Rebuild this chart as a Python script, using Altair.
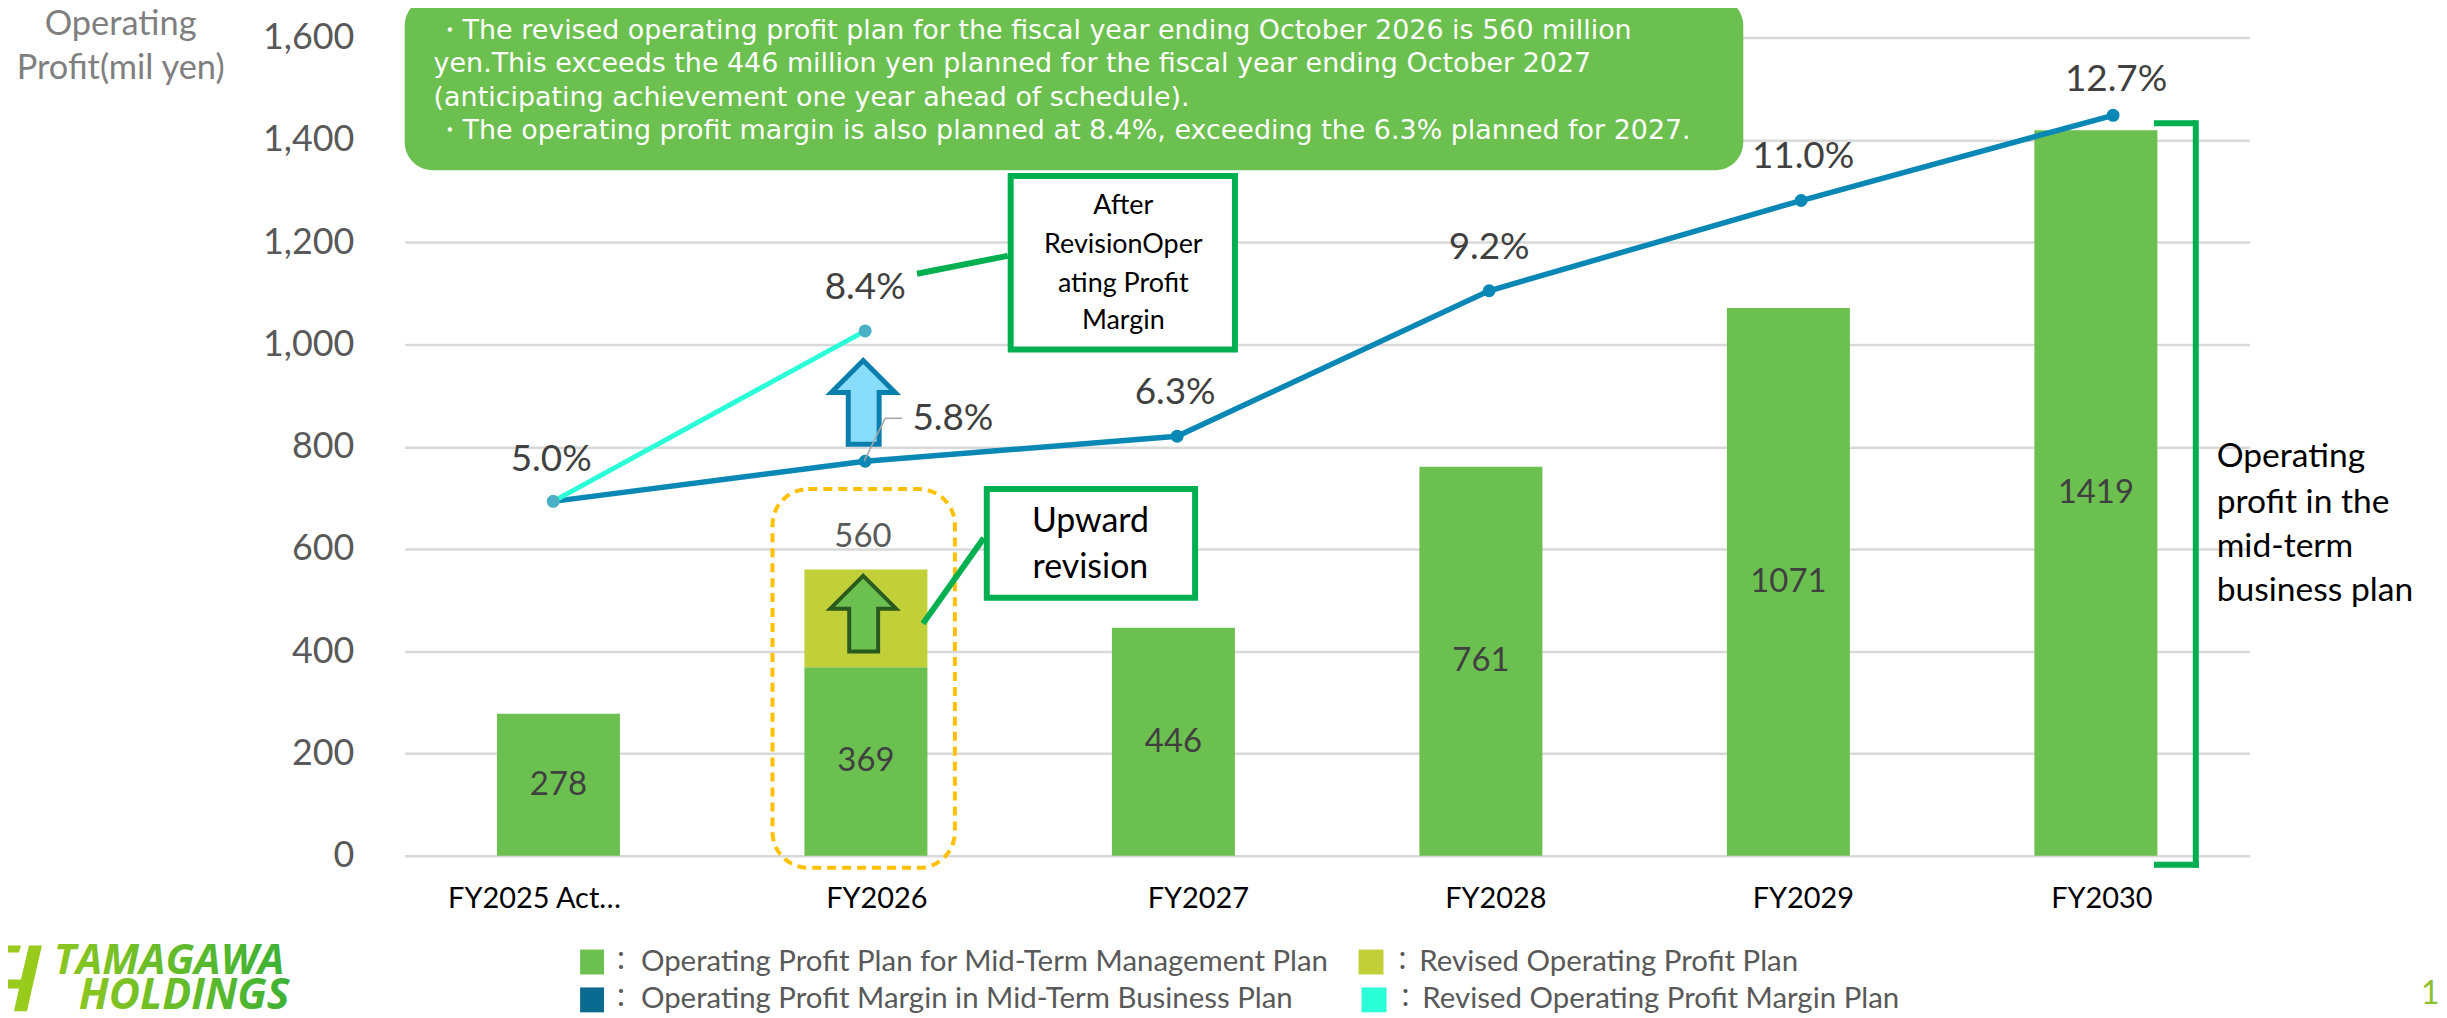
import altair as alt
import pandas as pd

categories = ["FY2025 Actual", "FY2026", "FY2027", "FY2028", "FY2029", "FY2030"]
plan_profit = [278, 369, 446, 761, 1071, 1419]
revised_profit = [560]
revised_category = ["FY2026"]
plan_margin = [5.0, 5.8, 6.3, 9.2, 11.0, 12.7]
margin_labels = ["5.0%", "5.8%", "6.3%", "9.2%", "11.0%", "12.7%"]
revised_margin_cats = ["FY2025 Actual", "FY2026"]
revised_margin = [5.0, 8.4]
revised_margin_labels = ["5.0%", "8.4%"]

LEFT, TOP, W, H = 406, 36, 1851, 821
GREEN, LIME, BLUE, TEAL, DOT = "#6CC04F", "#C1CF38", "#0A88B5", "#2BFFD8", "#4BB0C6"
CALL = "#00B050"
FONT = "Lato"


def px(v):
    return alt.value(v - LEFT)


def py(v):
    return alt.value(v - TOP)


def txt(s, x, y, size, color="#000000", font=FONT, align="left", **kw):
    return alt.Chart().mark_text(text=s, font=font, fontSize=size, color=color, align=align,
                                 baseline="middle", **kw).encode(x=px(x), y=py(y))


def seg(x, y, x2, y2, color=CALL, width=6):
    return alt.Chart().mark_rule(color=color, strokeWidth=width).encode(x=px(x), x2=px(x2), y=py(y), y2=py(y2))


def box(x, y, x2, y2, **kw):
    return alt.Chart().mark_rect(**kw).encode(x=px(x), x2=px(x2), y=py(y), y2=py(y2))


def shape(path, x, y, fill, stroke, width=4):
    return alt.Chart().mark_point(shape=path, size=4, filled=True, fill=fill, stroke=stroke, strokeWidth=width,
                                  opacity=1, strokeOpacity=1).encode(x=px(x), y=py(y))


bars_df = pd.DataFrame({"cat": categories, "v": plan_profit})
bars_df["mid"] = bars_df["v"] / 2
rev_df = pd.DataFrame({"cat": revised_category, "top": revised_profit, "base": [plan_profit[1]]})
line_df = pd.DataFrame({"cat": categories, "m": plan_margin, "t": margin_labels})
rev_line_df = pd.DataFrame({"cat": revised_margin_cats, "m": revised_margin, "t": revised_margin_labels})

band = alt.Scale(domain=categories, paddingInner=0.6, paddingOuter=0.3)
yscale = alt.Scale(domain=[0, 1600], nice=False)
pts = alt.Scale(type="point", domain=categories, range=[555 - LEFT, 2120 - LEFT], padding=0)
mscale = alt.Scale(domain=[-2.07, 14.25], nice=False, zero=False)

xnone = alt.X("cat:N", scale=band, axis=None)
ynone = alt.Y("v:Q", scale=yscale, axis=None)

x_axis = alt.Axis(
    title=None, labelAngle=0, ticks=False, domain=False, labelFont=FONT, labelFontSize=29, labelColor="#000000",
    labelPadding=29, labelOverlap=False, labelBound=False, grid=False,
    labelOffset=alt.expr("datum.label=='FY2025 Actual'?-24:datum.label=='FY2026'?11:datum.label=='FY2027'?25:"
                         "datum.label=='FY2028'?15:datum.label=='FY2029'?15:6"),
)
y_axis = alt.Axis(
    title=None, values=list(range(0, 1601, 200)), format=",.0f", ticks=False, domain=False, labelFont=FONT,
    labelFontSize=36, labelColor="#595959", labelPadding=51, gridColor="#D9D9D9", gridWidth=2.5, grid=True,
    labelOverlap=False, labelBound=False,
)

layers = []
layers.append(alt.Chart(bars_df).mark_bar(color=GREEN).encode(
    x=alt.X("cat:N", scale=band, axis=x_axis), y=alt.Y("v:Q", scale=yscale, axis=y_axis)))
layers.append(alt.Chart(rev_df).mark_bar(color=LIME).encode(
    x=xnone, y=alt.Y("top:Q", scale=yscale, axis=None), y2="base:Q"))
layers.append(alt.Chart(bars_df).mark_text(font=FONT, fontSize=33, color="#404040", baseline="middle").encode(
    x=xnone, y=alt.Y("mid:Q", scale=yscale, axis=None), text="v:Q"))
layers.append(alt.Chart(rev_df).mark_text(font=FONT, fontSize=33, color="#595959", baseline="middle", dy=-33, dx=-3).encode(
    x=xnone, y=alt.Y("top:Q", scale=yscale, axis=None), text="top:Q"))

# margin lines on their own hidden scales
xp = alt.X("cat:N", scale=pts, axis=None)
ym = alt.Y("m:Q", scale=mscale, axis=None)
layers.append(alt.Chart(line_df).mark_line(color=BLUE, strokeWidth=5.5).encode(x=xp, y=ym))
layers.append(alt.Chart(rev_line_df).mark_line(color=TEAL, strokeWidth=5).encode(x=xp, y=ym))
layers.append(alt.Chart(line_df.iloc[1:]).mark_point(color=BLUE, filled=True, size=170, opacity=1).encode(x=xp, y=ym))
layers.append(alt.Chart(rev_line_df).mark_point(color=DOT, filled=True, size=170, opacity=1).encode(x=xp, y=ym))

offsets = {"5.0%": (-2, -41), "5.8%": (88, -42), "6.3%": (-2, -43), "9.2%": (0, -43), "11.0%": (2, -44), "12.7%": (3, -35)}
for lbl, (dx, dy) in offsets.items():
    layers.append(alt.Chart(line_df[line_df.t == lbl]).mark_text(
        font=FONT, fontSize=37, color="#404040", baseline="middle", dx=dx, dy=dy).encode(x=xp, y=ym, text="t:N"))
layers.append(alt.Chart(rev_line_df[rev_line_df.t == "8.4%"]).mark_text(
    font=FONT, fontSize=37, color="#404040", baseline="middle", dy=-43).encode(x=xp, y=ym, text="t:N"))

# annotations
layers.append(box(406, -4, 1749, 169, fill=GREEN, cornerRadius=28))
for s, x, y in [("・The revised operating profit plan for the fiscal year ending October 2026 is 560 million", 437, 29),
                ("yen.This exceeds the 446 million yen planned for the fiscal year ending October 2027", 435, 63),
                ("(anticipating achievement one year ahead of schedule).", 435, 97),
                ("・The operating profit margin is also planned at 8.4%, exceeding the 6.3% planned for 2027.", 437, 130)]:
    layers.append(txt(s, x, y, 27, "#FFFFFF", font="DejaVu Sans"))

layers.append(txt("Operating", 121, 23, 34.5, "#7F7F7F", align="center"))
layers.append(txt("Profit(mil yen)", 121, 68, 34.5, "#7F7F7F", align="center"))

layers.append(seg(920, 273, 1011, 255))
layers.append(box(1014, 175, 1239, 349, fill="#FFFFFF", stroke=CALL, strokeWidth=6))
for s, y in [("After", 205), ("RevisionOper", 244), ("ating Profit", 283), ("Margin", 320)]:
    layers.append(txt(s, 1127, y, 27, align="center"))

layers.append(box(775, 489, 958, 869, fill="transparent", stroke="#FFC000", strokeWidth=4, strokeDash=[9, 6], cornerRadius=36))
layers.append(seg(987, 538, 926, 624))
layers.append(box(990, 489, 1199, 598, fill="#FFFFFF", stroke=CALL, strokeWidth=6))
layers.append(txt("Upward", 1094, 522, 34, align="center"))
layers.append(txt("revision", 1094, 568, 34, align="center"))

arrow_green = "M0,-38 L33,-5 L15,-5 L15,38 L-14,38 L-14,-5 L-33,-5 Z"
layers.append(shape(arrow_green, 866, 614, GREEN, "#2B5A1E"))
arrow_blue = "M0,-42 L32,-10 L16,-10 L16,42 L-15,42 L-15,-10 L-32,-10 Z"
layers.append(shape(arrow_blue, 866, 402, "#87DDFB", "#0A7FAE", 5))

layers.append(seg(867, 461, 888, 418, "#A6A6A6", 1.5))
layers.append(seg(888, 418, 905, 418, "#A6A6A6", 1.5))

layers.append(seg(2161, 122, 2203, 122))
layers.append(seg(2203, 119, 2203, 869))
layers.append(seg(2161, 866, 2206, 866))
for s, y in [("Operating", 457), ("profit in the", 503), ("mid-term", 547), ("business plan", 591)]:
    layers.append(txt(s, 2224, y, 33.7))

# legend
for x, x2, y, col in [(582, 606, 951, GREEN), (582, 606, 989, "#0B6A8F"), (1363, 1388, 951, LIME), (1366, 1391, 989, TEAL)]:
    layers.append(box(x, y, x2, y + 25, fill=col))
for s, cx, tx, y in [("Operating Profit Plan for Mid-Term Management Plan", 623, 643, 964),
                     ("Operating Profit Margin in Mid-Term Business Plan", 623, 643, 1001),
                     ("Revised Operating Profit Plan", 1407, 1424, 964),
                     ("Revised Operating Profit Margin Plan", 1410, 1427, 1001)]:
    layers.append(txt("：", cx, y, 26, "#595959", font="Noto Sans CJK JP", align="center"))
    layers.append(txt(s, tx, y, 29.5, "#595959"))

# logo
grad = alt.LinearGradient(gradient="linear", x1=0, x2=1, y1=0, y2=0,
                          stops=[alt.GradientStop(offset=0, color="#8CC620"), alt.GradientStop(offset=1, color="#3DB135")])
layers.append(shape("M-21,-33 L0,-33 L-2,-26 L-16,-26 Z M8,-33 L21,-33 L6,33 L-7,33 L-2,10 L-21,10 L-21,1 L0,1 Z",
                    21, 980, "#98CB1C", "#98CB1C", 0))
layers.append(txt("TAMAGAWA", 54, 963, 42, grad, font="Open Sans", fontStyle="italic", fontWeight="bold"))
layers.append(txt("HOLDINGS", 79, 998, 43, grad, font="Open Sans", fontStyle="italic", fontWeight="bold"))
layers.append(txt("10", 2429, 996, 32, "#8DBF2F"))

chart = alt.layer(*layers).resolve_scale(x="independent", y="independent").properties(
    width=W, height=H,
    padding={"left": LEFT - 8, "top": TOP - 8, "right": 2439 - (LEFT - 8) - W, "bottom": 1010 - (TOP - 8) - H},
    autosize=alt.AutoSizeParams(type="none"),
).configure_view(stroke=None)

chart.save("out.html", embed_options={"renderer": "svg", "actions": False})
